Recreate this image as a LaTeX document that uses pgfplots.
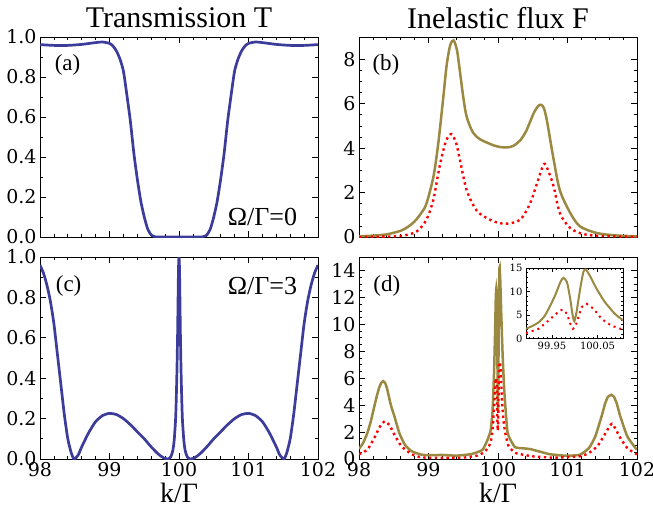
\documentclass[border=0pt]{standalone}
\usepackage{fontspec}
\setmainfont{Liberation Serif}
\newfontfamily\tickfont{DejaVu Serif}
\usepackage{pgfplots}
\pgfplotsset{compat=1.18}
\definecolor{tblue}{RGB}{60,60,155}
\definecolor{fgold}{RGB}{155,137,65}
\tikzset{lab/.style={font=\fontsize{23}{24}\selectfont}}
\pgfplotsset{
  panel/.style={
    scale only axis, width=278pt,
    xmin=98, xmax=102, xtick={98,...,102}, minor x tick num=4,
    tick align=inside, major tick length=6pt, minor tick length=3pt,
    every tick/.append style={black, line width=0.7pt},
    axis line style={line width=0.9pt},
    tick label style={font=\tickfont\fontsize{19}{20}\selectfont},
    xticklabels={98,99,100,101,102},
  },
  tcurve/.style={tblue, line width=2.7pt, smooth, tension=0.4},
  gcurve/.style={fgold, line width=2.5pt},
  rcurve/.style={red, line width=2.4pt, dash pattern=on 2.4pt off 3.4pt},
}
\begin{document}
\begin{tikzpicture}
\useasboundingbox (0,0) rectangle (653pt,515pt);

\node at (179pt,497pt) {\fontsize{30}{32}\selectfont Transmission T};
\node at (498pt,497pt) {\fontsize{30}{32}\selectfont Inelastic flux F};
\node at (179pt,22pt) {\fontsize{28}{30}\selectfont k/Γ};
\node at (498pt,22pt) {\fontsize{28}{30}\selectfont k/Γ};

% (a)
\begin{axis}[panel, at={(40pt,278pt)}, anchor=south west, height=200pt,
  ymin=0, ymax=1, ytick={0,0.2,...,1.0}, minor y tick num=1,
  xticklabels={}, yticklabels={0.0,0.2,0.4,0.6,0.8,1.0}]
\addplot[tcurve] coordinates {
(98.0,0.962) (98.2,0.958) (98.4,0.958) (98.6,0.963) (98.8,0.972) (98.9,0.975)
(99.0,0.968) (99.05,0.955) (99.1,0.93) (99.15,0.89) (99.2,0.83) (99.25,0.71)
(99.3,0.58) (99.35,0.42) (99.4,0.29) (99.45,0.18) (99.5,0.10) (99.55,0.04)
(99.6,0.01) (99.65,0.002) (99.7,0) (100.3,0) (100.35,0.002) (100.4,0.01)
(100.45,0.04) (100.5,0.10) (100.55,0.18) (100.6,0.29) (100.65,0.42) (100.7,0.58)
(100.75,0.71) (100.8,0.83) (100.85,0.89) (100.9,0.93) (100.95,0.955) (101.0,0.968)
(101.1,0.975) (101.2,0.972) (101.4,0.963) (101.6,0.958) (101.8,0.958) (102.0,0.962)
};
\node[lab] at (rel axis cs:0.099,0.86) {(a)};
\node[font=\fontsize{26}{28}\selectfont] at (rel axis cs:0.80,0.10) {Ω/Γ=0};
\end{axis}

% (b)
\begin{axis}[panel, at={(359pt,278pt)}, anchor=south west, height=200pt,
  ymin=0, ymax=9, ytick={0,2,...,8}, minor y tick num=3,
  xticklabels={}, yticklabels={0,2,4,6,8}]
\addplot[gcurve, smooth, tension=0.5] coordinates {
(98.0,0.03) (98.2,0.06) (98.4,0.12) (98.6,0.28) (98.7,0.45) (98.8,0.7)
(98.9,1.1) (98.97,1.5) (99.07,2.7) (99.14,4.2) (99.21,6.2) (99.26,7.7)
(99.31,8.6) (99.36,8.85) (99.41,8.4) (99.45,7.5) (99.5,6.3) (99.55,5.4)
(99.64,4.7) (99.74,4.4) (99.84,4.25) (99.94,4.12) (100.03,4.05) (100.13,4.03)
(100.22,4.1) (100.32,4.35) (100.41,4.8) (100.51,5.55) (100.58,5.9) (100.62,5.95)
(100.66,5.8) (100.70,5.3) (100.75,4.4) (100.80,3.5) (100.89,2.1) (101.04,1.08)
(101.18,0.48) (101.42,0.18) (101.7,0.07) (102.0,0.03)
};
\addplot[rcurve, smooth, tension=0.5] coordinates {
(98.0,0.0) (98.4,0.02) (98.63,0.06) (98.83,0.25) (98.97,0.78) (99.07,1.68)
(99.16,3.18) (99.25,4.3) (99.33,4.63) (99.4,4.2) (99.45,3.5) (99.55,2.1)
(99.69,1.2) (99.84,0.85) (99.98,0.66) (100.13,0.6) (100.32,0.78) (100.46,1.5)
(100.56,2.4) (100.66,3.28) (100.72,3.0) (100.80,2.28) (100.89,1.08) (101.04,0.4)
(101.23,0.13) (101.5,0.04) (102.0,0.01)
};
\node[lab] at (rel axis cs:0.097,0.86) {(b)};
\end{axis}

% (c)
\begin{axis}[panel, at={(40pt,56pt)}, anchor=south west, height=202pt,
  ymin=0, ymax=1, ytick={0,0.2,...,1.0}, minor y tick num=1,
  yticklabels={0.0,0.2,0.4,0.6,0.8,1.0}]
\addplot[tcurve] coordinates {
(98.0,0.96) (98.05,0.92) (98.1,0.86) (98.15,0.78) (98.2,0.67) (98.25,0.52)
(98.3,0.37) (98.35,0.22) (98.4,0.10) (98.45,0.03) (98.49,0) (98.55,0.02)
(98.6,0.06) (98.7,0.13) (98.8,0.185) (98.9,0.215) (99.0,0.226) (99.1,0.22)
(99.2,0.20) (99.3,0.17) (99.4,0.135) (99.5,0.10) (99.6,0.06) (99.7,0.025)
(99.78,0.005) (99.84,0) (99.88,0.01) (99.91,0.04) (99.93,0.09) (99.95,0.19)
(99.96,0.29) (99.97,0.43) (99.98,0.62) (99.99,0.88) (99.995,0.97) (100.0,1.0)
(100.005,0.97) (100.01,0.88) (100.02,0.62) (100.03,0.43) (100.04,0.29) (100.05,0.19)
(100.07,0.09) (100.09,0.04) (100.12,0.01) (100.16,0) (100.22,0.005) (100.3,0.025)
(100.4,0.06) (100.5,0.10) (100.6,0.135) (100.7,0.17) (100.8,0.20) (100.9,0.22)
(101.0,0.226) (101.1,0.215) (101.2,0.185) (101.3,0.13) (101.4,0.06) (101.45,0.02)
(101.51,0) (101.55,0.03) (101.6,0.10) (101.65,0.22) (101.7,0.37) (101.75,0.52)
(101.8,0.67) (101.85,0.78) (101.9,0.86) (101.95,0.92) (102.0,0.96)
};
\node[lab] at (rel axis cs:0.103,0.856) {(c)};
\node[font=\fontsize{26}{28}\selectfont] at (rel axis cs:0.80,0.856) {Ω/Γ=3};
\end{axis}

% (d)
\begin{axis}[panel, at={(359pt,56pt)}, anchor=south west, height=202pt,
  ymin=0, ymax=15, ytick={0,2,...,14}, minor y tick num=3,
  yticklabels={0,2,4,6,8,10,12,14}]
\addplot[gcurve, smooth, tension=0.3] coordinates {
(98.0,0.75) (98.06,1.2) (98.12,1.93) (98.17,2.8) (98.22,3.9) (98.26,4.75) (98.29,5.3)
(98.32,5.65) (98.35,5.78) (98.38,5.6) (98.41,5.1) (98.44,4.4) (98.47,3.8) (98.51,3.16)
(98.58,1.93) (98.66,1.06) (98.76,0.57) (98.9,0.32) (99.0,0.28) (99.2,0.3)
(99.4,0.25) (99.6,0.35) (99.7,0.5) (99.78,0.69) (99.85,1.43) (99.893,2.1)
(99.921,3.5) (99.943,6.4) (99.957,9.2) (99.968,11.9) (99.975,12.6) (99.983,11.8)
(99.990,8.5) (99.997,3.9) (100.0,3.7) (100.004,5.7) (100.012,10.6) (100.019,13.9)
(100.024,14.25) (100.033,13.2) (100.048,10.6) (100.066,7.8) (100.088,5.3)
(100.106,3.9) (100.14,1.9) (100.24,0.9) (100.35,0.8) (100.46,0.74) (100.6,0.55)
(100.75,0.35) (100.99,0.24) (101.18,0.32) (101.31,0.82) (101.40,1.68) (101.49,3.16)
(101.54,4.1) (101.58,4.6) (101.63,4.77) (101.67,4.6) (101.71,4.1) (101.76,3.16)
(101.86,1.68) (101.98,0.8) (102.0,0.7)
};
\addplot[rcurve, smooth, tension=0.3] coordinates {
(98.0,0.35) (98.12,0.69) (98.22,1.56) (98.3,2.4) (98.37,2.8) (98.44,2.5)
(98.51,1.8) (98.61,0.95) (98.76,0.35) (98.9,0.12) (99.2,0.08) (99.5,0.1)
(99.7,0.25) (99.8,0.5) (99.85,0.8) (99.893,1.2) (99.921,2.1) (99.943,3.9)
(99.964,5.7) (99.973,6.0) (99.983,5.3) (99.990,3.2) (99.996,2.1) (100.001,2.5)
(100.007,4.2) (100.015,6.7) (100.026,7.2) (100.041,6.4) (100.059,4.2) (100.080,2.8)
(100.106,1.9) (100.15,1.0) (100.25,0.45) (100.5,0.2) (100.8,0.1) (101.18,0.2)
(101.31,0.45) (101.43,0.95) (101.52,1.68) (101.64,2.62) (101.76,1.56) (101.86,0.82)
(101.96,0.45) (102.0,0.35)
};
\node[lab] at (rel axis cs:0.10,0.856) {(d)};
\end{axis}

% inset
\begin{axis}[at={(526pt,176.3pt)}, anchor=south west, scale only axis,
  width=97pt, height=70.7pt, axis background/.style={fill=white},
  xmin=99.893, xmax=100.106, ymin=0, ymax=15,
  xtick={99.95,100.05}, minor xtick={99.9,99.91,...,100.1},
  ytick={0,5,10,15}, minor y tick num=4,
  xticklabels={99.95,100.05}, yticklabels={0,5,10,15},
  tick align=inside, major tick length=3.5pt, minor tick length=1.8pt,
  every tick/.append style={black, line width=0.5pt},
  axis line style={line width=0.7pt},
  tick label style={font=\tickfont\fontsize{10}{11}\selectfont}]
\addplot[fgold, line width=2pt, smooth, tension=0.4] coordinates {
(99.893,2.1) (99.907,2.7) (99.921,3.5) (99.933,4.7) (99.943,6.4) (99.957,9.2)
(99.968,11.9) (99.975,12.9) (99.983,12.0) (99.990,8.5) (99.995,5.2) (99.999,3.7)
(100.004,5.7) (100.012,10.6) (100.019,14.2) (100.024,14.7) (100.033,13.4)
(100.048,10.6) (100.066,7.8) (100.088,5.3) (100.106,3.9)
};
\addplot[red, line width=2pt, dash pattern=on 2pt off 4pt] coordinates {
(99.893,1.2) (99.921,2.1) (99.943,3.9) (99.964,5.7) (99.973,6.2) (99.983,5.3)
(99.990,3.2) (99.996,2.1) (100.001,2.5) (100.007,4.2) (100.015,6.7) (100.026,7.4)
(100.041,6.4) (100.059,4.2) (100.080,2.8) (100.106,1.9)
};
\end{axis}
\end{tikzpicture}
\end{document}
